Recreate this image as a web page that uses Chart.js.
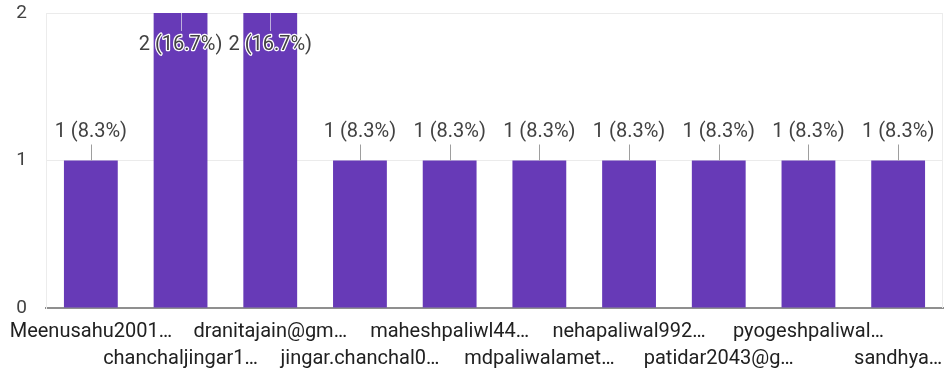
<!DOCTYPE html>
<html>
<head>
<meta charset="utf-8">
<script src="https://cdn.jsdelivr.net/npm/chart.js@4.4.1/dist/chart.umd.min.js"></script>
<style>
  html, body { margin: 0; padding: 0; background: #fff; }
  #wrap { width: 947px; height: 374px; position: relative; }
</style>
</head>
<body>
<div id="wrap"><canvas id="chart"></canvas></div>
<script>
// Data
const respondents = [
  "Meenusahu2001…", "chanchaljingar1…", "dranitajain@gm…", "jingar.chanchal0…",
  "maheshpaliwl44…", "mdpaliwalamet…", "nehapaliwal992…", "patidar2043@g…",
  "pyogeshpaliwal…", "sandhya…",
];
const counts = [1, 2, 2, 1, 1, 1, 1, 1, 1, 1];
const percents = ["8.3", "16.7", "16.7", "8.3", "8.3", "8.3", "8.3", "8.3", "8.3", "8.3"];
const yTicks = [0, 1, 2];

const FONT = "Roboto, 'Noto Sans', sans-serif";
const BAR = "#673ab7";

// value labels with leader lines, like google forms
const valueLabels = {
  id: "valueLabels",
  afterDatasetsDraw(chart) {
    const ctx = chart.ctx;
    const area = chart.chartArea;
    const meta = chart.getDatasetMeta(0);
    ctx.save();
    ctx.font = "20px " + FONT;
    ctx.textAlign = "center";
    ctx.textBaseline = "middle";
    meta.data.forEach((bar, i) => {
      const text = `${counts[i]} (${percents[i]}%)`;
      let ty = bar.y - 29;
      let l1 = bar.y - 16, l2 = bar.y;
      let inside = false;
      if (ty - 10 < area.top) {
        inside = true;
        ty = bar.y + 32;
        l1 = bar.y;
        l2 = bar.y + 18;
      }
      ctx.strokeStyle = inside ? "rgba(200,190,225,0.9)" : "#9e9e9e";
      ctx.lineWidth = 1;
      ctx.beginPath();
      ctx.moveTo(Math.round(bar.x) + 0.5, l1);
      ctx.lineTo(Math.round(bar.x) + 0.5, l2);
      ctx.stroke();
      if (inside) {
        ctx.strokeStyle = "#fff";
        ctx.lineWidth = 2.5;
        ctx.lineJoin = "round";
        ctx.strokeText(text, bar.x, ty);
      }
      ctx.fillStyle = "#424242";
      ctx.fillText(text, bar.x, ty);
    });
    // faint right edge of the plot
    ctx.strokeStyle = "#ececec";
    ctx.beginPath();
    ctx.moveTo(area.right - 0.5, area.top);
    ctx.lineTo(area.right - 0.5, area.bottom);
    ctx.stroke();
    ctx.restore();
  },
};

new Chart(document.getElementById("chart"), {
  type: "bar",
  data: {
    labels: respondents,
    datasets: [{
      data: counts,
      backgroundColor: BAR,
      barPercentage: 0.6,
      categoryPercentage: 1,
    }],
  },
  options: {
    responsive: true,
    maintainAspectRatio: false,
    animation: false,
    layout: { padding: { top: 13, right: 4, bottom: 0, left: 0 } },
    plugins: { legend: { display: false }, tooltip: { enabled: false } },
    scales: {
      x: {
        grid: { display: false },
        border: { color: "#8f8f8f", width: 2 },
        ticks: {
          autoSkip: false,
          maxRotation: 0,
          minRotation: 0,
          padding: 2,
          color: "#212121",
          font: { family: FONT, size: 20, lineHeight: 1.35 },
          callback: (v, i) => (i % 2 ? ["", respondents[i]] : respondents[i]),
        },
        afterFit: (s) => { s.height = 66; },
      },
      y: {
        min: 0,
        max: 2,
        afterBuildTicks: (s) => { s.ticks = yTicks.map((v) => ({ value: v })); },
        grid: { color: "#ebebeb", drawTicks: false },
        border: { color: "#ececec" },
        ticks: {
          padding: 19,
          color: "#424242",
          font: { family: FONT, size: 19 },
        },
        afterFit: (s) => {
          s.width = 46;
          s.paddingTop = 0;
          s.paddingBottom = 0;
        },
      },
    },
  },
  plugins: [valueLabels],
});
</script>
</body>
</html>
